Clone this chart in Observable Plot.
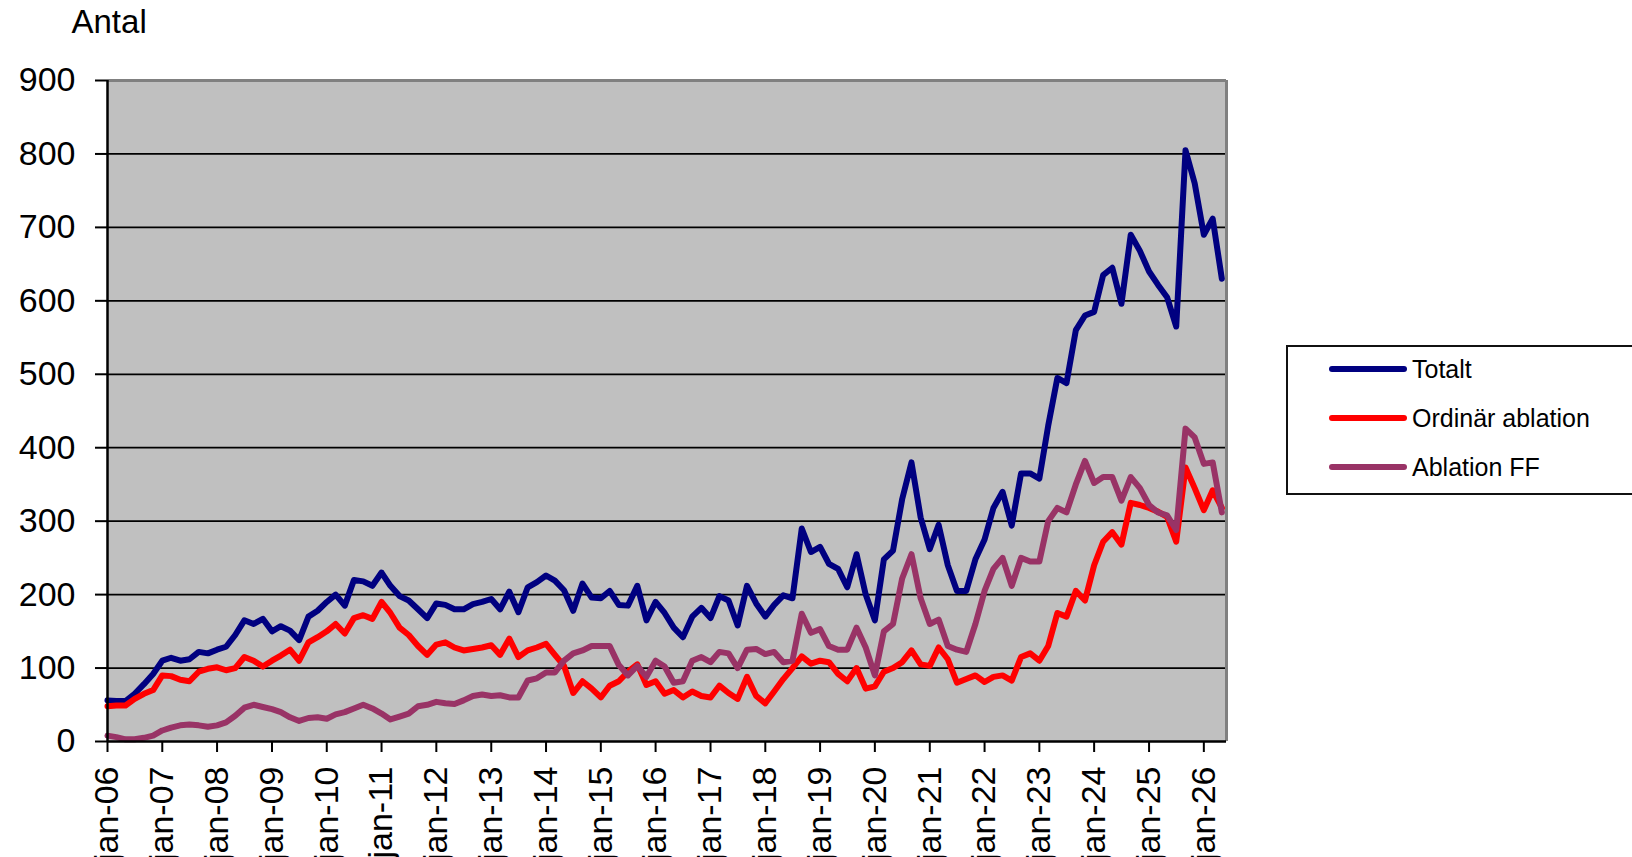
<!DOCTYPE html>
<html>
<head>
<meta charset="utf-8">
<script src="https://cdn.jsdelivr.net/npm/d3@7"></script>
<script src="https://cdn.jsdelivr.net/npm/@observablehq/plot@0.6"></script>
<style>
  html, body { margin: 0; padding: 0; background: #fff; overflow: hidden; }
  #wrap { position: relative; width: 1632px; height: 857px; font-family: "Liberation Sans", Arial, sans-serif; color: #000; }
  #legend { position: absolute; left: 1286px; top: 345px; width: 420px; height: 150px; box-sizing: border-box; border: 2px solid #111; background: #fff; }
  .sw { position: absolute; left: 41px; width: 78px; height: 6px; border-radius: 3px; }
  .lt { position: absolute; left: 124px; font-size: 25px; line-height: 30px; white-space: nowrap; }
</style>
</head>
<body>
<div id="wrap"></div>
<script>
// Bimonthly observations (Jan, Mar, May, Jul, Sep, Nov), Jan 2006 – May 2026
const months = [
  "2006-01","2006-03","2006-05","2006-07","2006-09","2006-11",
  "2007-01","2007-03","2007-05","2007-07","2007-09","2007-11",
  "2008-01","2008-03","2008-05","2008-07","2008-09","2008-11",
  "2009-01","2009-03","2009-05","2009-07","2009-09","2009-11",
  "2010-01","2010-03","2010-05","2010-07","2010-09","2010-11",
  "2011-01","2011-03","2011-05","2011-07","2011-09","2011-11",
  "2012-01","2012-03","2012-05","2012-07","2012-09","2012-11",
  "2013-01","2013-03","2013-05","2013-07","2013-09","2013-11",
  "2014-01","2014-03","2014-05","2014-07","2014-09","2014-11",
  "2015-01","2015-03","2015-05","2015-07","2015-09","2015-11",
  "2016-01","2016-03","2016-05","2016-07","2016-09","2016-11",
  "2017-01","2017-03","2017-05","2017-07","2017-09","2017-11",
  "2018-01","2018-03","2018-05","2018-07","2018-09","2018-11",
  "2019-01","2019-03","2019-05","2019-07","2019-09","2019-11",
  "2020-01","2020-03","2020-05","2020-07","2020-09","2020-11",
  "2021-01","2021-03","2021-05","2021-07","2021-09","2021-11",
  "2022-01","2022-03","2022-05","2022-07","2022-09","2022-11",
  "2023-01","2023-03","2023-05","2023-07","2023-09","2023-11",
  "2024-01","2024-03","2024-05","2024-07","2024-09","2024-11",
  "2025-01","2025-03","2025-05","2025-07","2025-09","2025-11",
  "2026-01","2026-03","2026-05"
];

const totalt = [
  56,55,55,65,78,92,
  110,114,110,112,122,120,
  125,129,145,165,160,167,
  150,157,151,138,170,178,
  190,200,185,220,218,212,
  230,212,198,192,180,168,
  188,186,180,180,187,190,
  194,180,204,176,210,217,
  226,219,206,178,215,196,
  195,205,186,185,212,165,
  190,175,155,142,170,182,
  168,198,192,158,212,188,
  170,186,199,195,290,258,
  265,242,235,210,255,200,
  165,248,260,330,380,305,
  262,295,240,205,205,248,
  275,318,340,294,365,365,
  358,430,495,488,560,580,
  585,635,645,596,690,668,
  640,622,605,565,805,760,
  690,712,630
];

const ordinar = [
  48,49,49,58,65,70,
  90,89,84,82,95,99,
  101,97,100,115,110,102,
  110,117,125,110,135,142,
  150,160,147,168,172,167,
  190,175,155,145,130,118,
  132,135,128,124,126,128,
  131,118,140,115,124,128,
  133,118,103,66,82,72,
  60,76,82,95,105,77,
  82,65,70,60,68,62,
  60,76,66,58,88,62,
  52,68,85,100,116,106,
  110,108,92,82,100,72,
  75,95,100,108,124,105,
  103,128,112,80,85,90,
  81,88,90,83,115,120,
  110,130,175,170,205,192,
  240,272,285,268,325,322,
  318,313,306,272,373,345,
  315,342,318
];

const ablationFF = [
  8,6,3,3,5,8,
  15,19,22,23,22,20,
  22,26,35,46,50,47,
  44,40,33,28,32,33,
  31,37,40,45,50,45,
  38,30,34,38,48,50,
  54,52,51,56,62,64,
  62,63,60,60,83,86,
  94,94,110,120,124,130,
  130,130,104,90,103,88,
  110,102,80,82,110,115,
  108,122,120,100,125,126,
  119,122,108,110,174,148,
  153,130,125,125,155,128,
  90,150,160,222,255,195,
  160,166,130,125,122,160,
  205,235,250,212,250,245,
  245,300,318,312,350,382,
  352,360,360,328,360,345,
  322,312,308,288,426,414,
  378,380,312
];

const seriesNames = ["Totalt", "Ordinär ablation", "Ablation FF"];
const seriesColors = ["#000080", "#FF0000", "#993366"];
const yTicks = [0, 100, 200, 300, 400, 500, 600, 700, 800, 900];
const xTickDates = ["2006-01-01","2007-01-01","2008-01-01","2009-01-01","2010-01-01","2011-01-01","2012-01-01","2013-01-01","2014-01-01","2015-01-01","2016-01-01","2017-01-01","2018-01-01","2019-01-01","2020-01-01","2021-01-01","2022-01-01","2023-01-01","2024-01-01","2025-01-01","2026-01-01"];
const xTickLabels = ["jan-06","jan-07","jan-08","jan-09","jan-10","jan-11","jan-12","jan-13","jan-14","jan-15","jan-16","jan-17","jan-18","jan-19","jan-20","jan-21","jan-22","jan-23","jan-24","jan-25","jan-26"];
const yLabel = "Antal";

const parse = s => new Date(s + (s.length === 7 ? "-01" : "") + "T00:00:00Z");
const xStart = parse("2006-01-01");
const xEnd = parse("2026-06-01");
const tickDates = xTickDates.map(parse);
const labelByTime = new Map(tickDates.map((d, i) => [+d, xTickLabels[i]]));

const rows = months.map((m, i) => ({date: parse(m), v0: totalt[i], v1: ordinar[i], v2: ablationFF[i]}));

const chart = Plot.plot({
  width: 1632,
  height: 857,
  marginLeft: 107,
  marginRight: 406,
  marginTop: 80,
  marginBottom: 116,
  style: {fontFamily: '"Liberation Sans", Arial, sans-serif', fontSize: "34px", color: "#000", background: "transparent", overflow: "visible"},
  x: {type: "utc", domain: [xStart, xEnd]},
  y: {domain: [0, 900]},
  marks: [
    Plot.frame({fill: "#C0C0C0", stroke: null}),
    Plot.ruleY(yTicks.filter(v => v > 0 && v < 900), {stroke: "#000", strokeWidth: 1.8}),
    Plot.ruleY([900], {stroke: "#808080", strokeWidth: 3}),
    Plot.ruleX([xEnd], {stroke: "#808080", strokeWidth: 3}),
    Plot.axisY({ticks: yTicks, tickSize: 12, tickPadding: 20, label: null, strokeWidth: 2, fontSize: 34}),
    Plot.axisX({ticks: tickDates, tickFormat: d => labelByTime.get(+d), tickRotate: -90, tickSize: 11, tickPadding: 14, label: null, strokeWidth: 2, fontSize: 34}),
    Plot.line(rows, {x: "date", y: "v0", stroke: seriesColors[0], strokeWidth: 6, strokeLinejoin: "round", strokeLinecap: "round"}),
    Plot.line(rows, {x: "date", y: "v1", stroke: seriesColors[1], strokeWidth: 6, strokeLinejoin: "round", strokeLinecap: "round"}),
    Plot.line(rows, {x: "date", y: "v2", stroke: seriesColors[2], strokeWidth: 6, strokeLinejoin: "round", strokeLinecap: "round"}),
    Plot.ruleX([xStart], {stroke: "#000", strokeWidth: 2.5}),
    Plot.ruleY([0], {stroke: "#000", strokeWidth: 2.5}),
    Plot.text([yLabel], {frameAnchor: "top-left", dx: -36, dy: -71, textAnchor: "start", lineAnchor: "top", fontSize: 33, fill: "#000"})
  ]
});

const wrap = document.getElementById("wrap");
wrap.appendChild(chart);

const legend = document.createElement("div");
legend.id = "legend";
const centers = [22, 71, 120];
seriesNames.forEach((name, i) => {
  const sw = document.createElement("div");
  sw.className = "sw";
  sw.style.top = (centers[i] - 3) + "px";
  sw.style.background = seriesColors[i];
  legend.appendChild(sw);
  const t = document.createElement("div");
  t.className = "lt";
  t.style.top = (centers[i] - 15) + "px";
  t.textContent = name;
  legend.appendChild(t);
});
wrap.appendChild(legend);
</script>
</body>
</html>
